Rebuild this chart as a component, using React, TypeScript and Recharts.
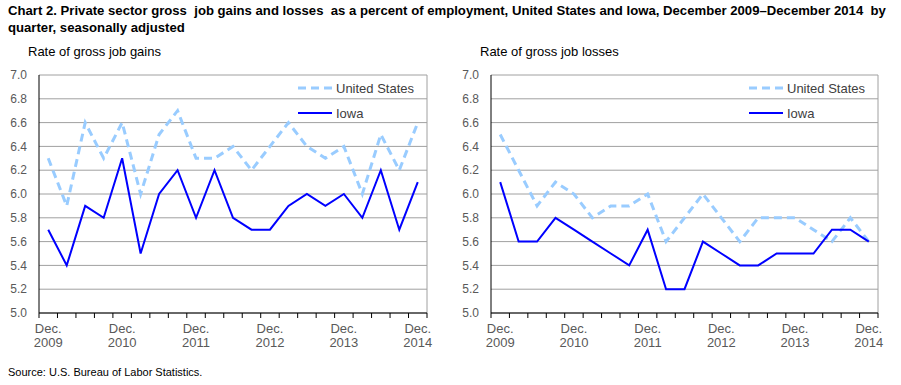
import { LineChart, Line, XAxis, YAxis, CartesianGrid, Legend } from 'recharts';

const FONT = '"Liberation Sans", Arial, sans-serif';

// quarterly categories, Dec. 2009 – Dec. 2014
const quarters = [
  'Dec. 2009', 'Mar. 2010', 'June 2010', 'Sept. 2010',
  'Dec. 2010', 'Mar. 2011', 'June 2011', 'Sept. 2011',
  'Dec. 2011', 'Mar. 2012', 'June 2012', 'Sept. 2012',
  'Dec. 2012', 'Mar. 2013', 'June 2013', 'Sept. 2013',
  'Dec. 2013', 'Mar. 2014', 'June 2014', 'Sept. 2014',
  'Dec. 2014',
];

const usGains = [6.3, 5.9, 6.6, 6.3, 6.6, 6.0, 6.5, 6.7, 6.3, 6.3, 6.4, 6.2, 6.4, 6.6, 6.4, 6.3, 6.4, 6.0, 6.5, 6.2, 6.6];
const iowaGains = [5.7, 5.4, 5.9, 5.8, 6.3, 5.5, 6.0, 6.2, 5.8, 6.2, 5.8, 5.7, 5.7, 5.9, 6.0, 5.9, 6.0, 5.8, 6.2, 5.7, 6.1];

const usLosses = [6.5, 6.2, 5.9, 6.1, 6.0, 5.8, 5.9, 5.9, 6.0, 5.6, 5.8, 6.0, 5.8, 5.6, 5.8, 5.8, 5.8, 5.7, 5.6, 5.8, 5.6];
const iowaLosses = [6.1, 5.6, 5.6, 5.8, 5.7, 5.6, 5.5, 5.4, 5.7, 5.2, 5.2, 5.6, 5.5, 5.4, 5.4, 5.5, 5.5, 5.5, 5.7, 5.7, 5.6];

const yTicks = [5.0, 5.2, 5.4, 5.6, 5.8, 6.0, 6.2, 6.4, 6.6, 6.8, 7.0];

const series = [
  { key: 'us', name: 'United States', color: '#99CCFF', width: 3, dash: '8 5' },
  { key: 'iowa', name: 'Iowa', color: '#0000FF', width: 2, dash: undefined },
];

const gainsData = quarters.map((q, i) => ({ quarter: q, us: usGains[i], iowa: iowaGains[i] }));
const lossesData = quarters.map((q, i) => ({ quarter: q, us: usLosses[i], iowa: iowaLosses[i] }));

const LegendBox = () => (
  <div style={{ fontFamily: FONT, fontSize: 13, color: '#404040' }}>
    {series.map((s, i) => (
      <div key={s.key} style={{ display: 'flex', alignItems: 'center', height: 16, marginTop: i ? 9 : 0 }}>
        <svg width={36} height={16} style={{ display: 'block' }}>
          <line x1={0} x2={34} y1={8} y2={8} stroke={s.color} strokeWidth={s.width} strokeDasharray={s.dash} />
        </svg>
        <span style={{ marginLeft: 2, whiteSpace: 'nowrap' }}>{s.name}</span>
      </div>
    ))}
  </div>
);

function Panel({ data, left, width, margin, legendLeft }: any) {
  const yAxisWidth = 35;
  const plotW = width - margin.left - margin.right - yAxisWidth;
  const plotRight = width - margin.right;
  const step = plotW / quarters.length;

  const QuarterTick = (props: any) => {
    const { x, y, index, payload } = props;
    const half = step / 2;
    const [m, yr] = String(payload.value).split(' ');
    return (
      <g>
        <line x1={x - half} x2={x - half} y1={y} y2={y + 5} stroke="#000" />
        {index === quarters.length - 1 && (
          <line x1={x + half} x2={x + half} y1={y} y2={y + 5} stroke="#000" />
        )}
        {m === 'Dec.' && (
          <text x={x} y={y + 20} textAnchor="middle" fontSize={13} fill="#595959" fontFamily={FONT}>
            <tspan x={x}>{m}</tspan>
            <tspan x={x} dy={14}>{yr}</tspan>
          </text>
        )}
      </g>
    );
  };

  return (
    <div style={{ position: 'absolute', left, top: 0 }}>
      <LineChart width={width} height={360} data={data} margin={margin}>
        <CartesianGrid stroke="#A0A0A0" vertical={true} verticalPoints={[plotRight]} />
        <XAxis
          dataKey="quarter"
          interval={0}
          padding={{ left: step / 2, right: step / 2 }}
          axisLine={{ stroke: '#000' }}
          tickLine={false}
          tickSize={0}
          tickMargin={0}
          height={47}
          tick={<QuarterTick />}
        />
        <YAxis
          domain={[5, 7]}
          ticks={yTicks}
          interval={0}
          width={yAxisWidth}
          axisLine={{ stroke: '#000' }}
          tickLine={false}
          tickMargin={6}
          tickFormatter={(v: number) => v.toFixed(1)}
          tick={{ fontSize: 12, fill: '#595959', fontFamily: FONT }}
        />
        <Legend
          layout="vertical"
          align="center"
          verticalAlign="middle"
          wrapperStyle={{ left: legendLeft, top: 80, width: 140 }}
          content={() => <LegendBox />}
        />
        {series.map((s) => (
          <Line
            key={s.key}
            type="linear"
            dataKey={s.key}
            name={s.name}
            stroke={s.color}
            strokeWidth={s.width}
            strokeDasharray={s.dash}
            dot={false}
            activeDot={false}
            isAnimationActive={false}
          />
        ))}
      </LineChart>
    </div>
  );
}

export default function App() {
  return (
    <div
      style={{
        position: 'absolute',
        left: 0,
        top: 0,
        width: 901,
        height: 385,
        background: '#fff',
        fontFamily: FONT,
        overflow: 'hidden',
      }}
    >
      <div
        style={{
          position: 'absolute',
          left: 8,
          top: 2,
          fontSize: 13.15,
          fontWeight: 'bold',
          lineHeight: '17px',
          whiteSpace: 'pre',
          color: '#000',
        }}
      >
        {'Chart 2. Private sector gross  job gains and losses  as a percent of employment, United States and Iowa, December 2009\u2013December 2014  by\nquarter, seasonally adjusted'}
      </div>
      <div style={{ position: 'absolute', left: 28, top: 44, fontSize: 13, color: '#000' }}>
        Rate of gross job gains
      </div>
      <div style={{ position: 'absolute', left: 480, top: 44, fontSize: 13, color: '#000' }}>
        Rate of gross job losses
      </div>

      <Panel data={gainsData} left={0} width={450} margin={{ top: 75, right: 23, bottom: 0, left: 4 }} legendLeft={298} />
      <Panel data={lossesData} left={452} width={448} margin={{ top: 75, right: 22, bottom: 0, left: 4 }} legendLeft={297} />

      <div style={{ position: 'absolute', left: 8, top: 366, fontSize: 11, color: '#000' }}>
        Source: U.S. Bureau of Labor Statistics.
      </div>
    </div>
  );
}
